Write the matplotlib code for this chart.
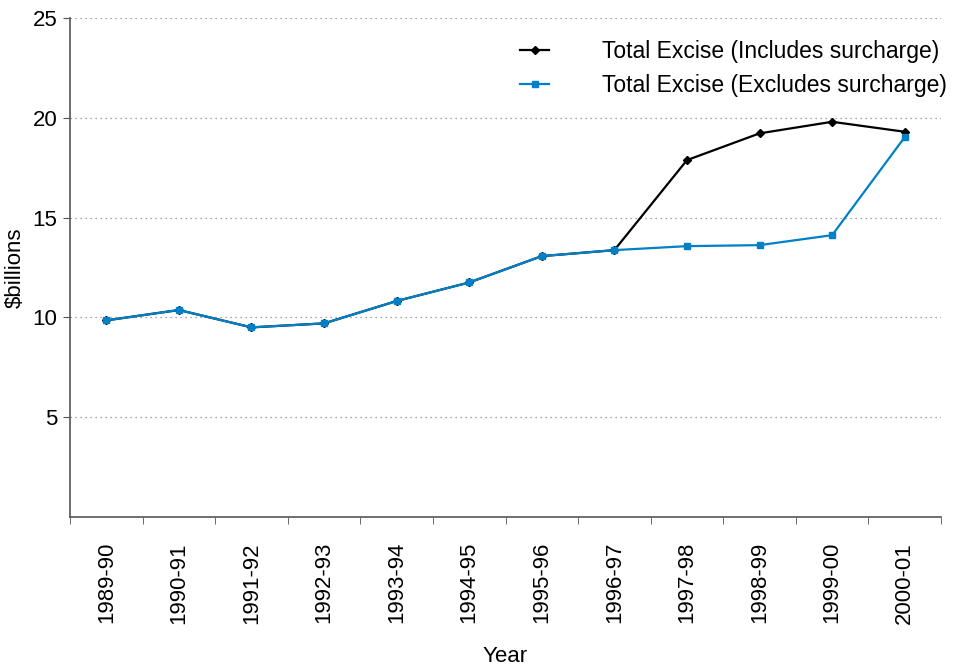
import numpy as np
import matplotlib.pyplot as plt

plt.rcParams['font.family'] = ['Liberation Sans', 'DejaVu Sans']

years = ['1989-90', '1990-91', '1991-92', '1992-93', '1993-94', '1994-95',
         '1995-96', '1996-97', '1997-98', '1998-99', '1999-00', '2000-01']
incl_surcharge = [9.85, 10.37, 9.5, 9.7, 10.82, 11.75, 13.07, 13.37,
                  17.88, 19.22, 19.8, 19.3]
excl_surcharge = [9.85, 10.37, 9.5, 9.7, 10.82, 11.75, 13.07, 13.37,
                  13.57, 13.62, 14.12, 19.03]

fig = plt.figure(figsize=(9.55, 6.66), dpi=100)
ax = fig.add_axes([70/955., 149/666., 871/955., 499/666.])

x = np.arange(len(years))
ax.plot(x, incl_surcharge, color='black', marker='D', markersize=4.5, lw=1.6,
        label='Total Excise (Includes surcharge)')
ax.plot(x, excl_surcharge, color='#0080c6', marker='s', markersize=5, lw=1.6,
        label='Total Excise (Excludes surcharge)')

ax.set_xlim(-0.5, len(years) - 0.5)
ax.set_ylim(0, 25)
ax.set_yticks([5, 10, 15, 20, 25])
ax.yaxis.grid(True, linestyle=(0, (1, 3)), color='#888888', lw=0.9)
ax.set_axisbelow(True)

# category labels centred, tick marks on the boundaries
ax.set_xticks(x)
ax.set_xticklabels(years, rotation=90, fontsize=16)
ax.tick_params(axis='x', which='major', length=0, pad=18)
ax.set_xticks(np.arange(-0.5, len(years)), minor=True)
ax.tick_params(axis='x', which='minor', length=5, direction='out', color='#555555')
ax.tick_params(axis='y', labelsize=16, length=5, direction='out', color='#555555', pad=4)

for s in ['top', 'right']:
    ax.spines[s].set_visible(False)
for s in ['left', 'bottom']:
    ax.spines[s].set_color('#555555')
    ax.spines[s].set_linewidth(1.2)

ax.set_ylabel('$billions', fontsize=16, labelpad=5)
ax.set_xlabel('Year', fontsize=16, labelpad=16)

leg = ax.legend(loc='upper right', bbox_to_anchor=(947/955., 626/666.),
                bbox_transform=fig.transFigure, frameon=False, fontsize=16.5,
                borderpad=0, borderaxespad=0,
                handlelength=1.3, handletextpad=2.3, labelspacing=0.5)

fig.savefig('out.png', dpi=100)
